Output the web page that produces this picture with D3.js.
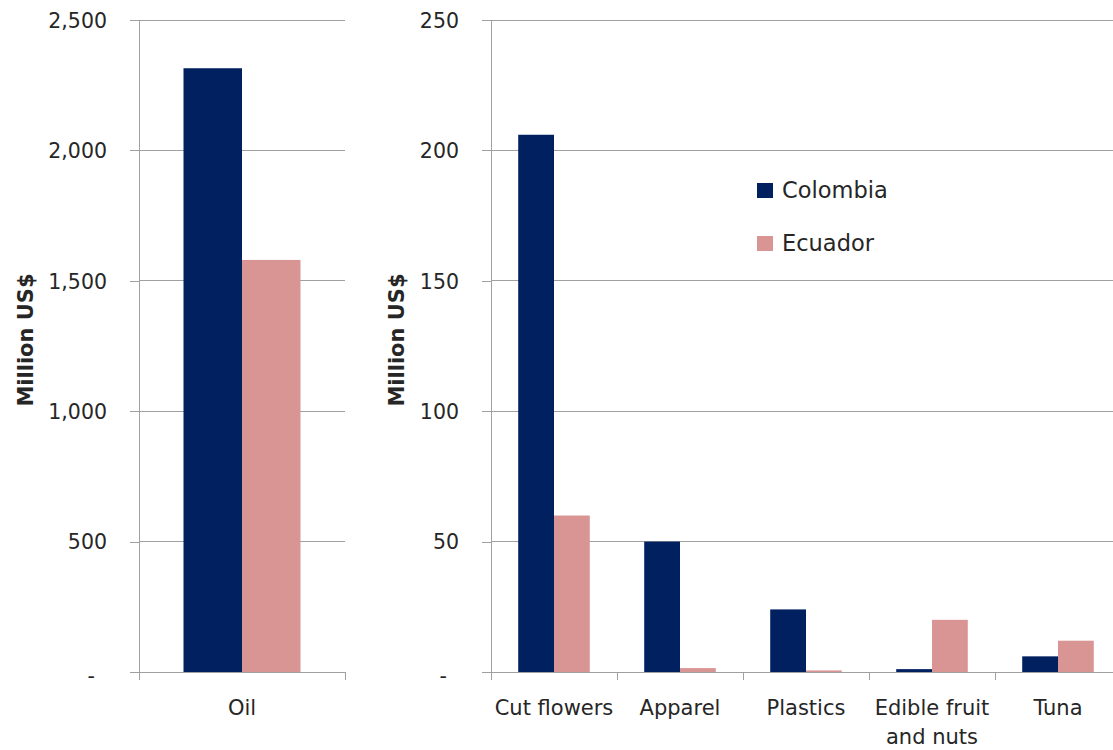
<!DOCTYPE html>
<html>
<head>
<meta charset="utf-8">
<script src="https://cdn.jsdelivr.net/npm/d3@7/dist/d3.min.js"></script>
<style>
  html, body { margin: 0; padding: 0; background: #ffffff; }
  svg { display: block; }
  text { font-family: "DejaVu Sans", sans-serif; fill: #262626; }
</style>
</head>
<body>
<svg id="chart" width="1113" height="750"></svg>
<script>
// Export values, million US$
const seriesNames = ["Colombia", "Ecuador"];
const seriesColors = ["#002060", "#D99594"];

const oilCategories = ["Oil"];
const oilColombia = [2315];
const oilEcuador = [1580];
const oilTicks = [0, 500, 1000, 1500, 2000, 2500];

const otherCategories = ["Cut flowers", "Apparel", "Plastics", "Edible fruit\nand nuts", "Tuna"];
const otherColombia = [206, 50, 24, 1.1, 6];
const otherEcuador = [60, 1.5, 0.6, 20, 12];
const otherTicks = [0, 50, 100, 150, 200, 250];

const yTitle = "Million US$";

const svg = d3.select("#chart");
const gridColor = "#a0a0a0";
const yTop = 20, yBottom = 672;

function drawPanel(opts) {
  const { categories, colombia, ecuador, ticks, x0, x1, titleX } = opts;
  const g = svg.append("g");

  const y = d3.scaleLinear()
    .domain([0, ticks[ticks.length - 1]])
    .range([yBottom, yTop]);

  const x = d3.scaleBand()
    .domain(categories)
    .range([x0, x1])
    .paddingInner(0)
    .paddingOuter(0);

  // share of each category slot taken by the pair of bars
  const groupShare = 0.568;
  const inner = d3.scaleBand()
    .domain(seriesNames)
    .range([0, x.bandwidth() * groupShare]);
  const groupOffset = x.bandwidth() * (1 - groupShare) / 2;

  // horizontal gridlines
  g.append("g")
    .selectAll("line")
    .data(ticks.filter(t => t > 0))
    .join("line")
    .attr("x1", x0).attr("x2", x1)
    .attr("y1", d => y(d)).attr("y2", d => y(d))
    .attr("stroke", gridColor).attr("stroke-width", 1)
    .attr("shape-rendering", "crispEdges");

  // bars
  const rows = categories.map((c, i) => ({ cat: c, values: [colombia[i], ecuador[i]] }));
  const grp = g.append("g")
    .selectAll("g")
    .data(rows)
    .join("g")
    .attr("transform", d => `translate(${x(d.cat) + groupOffset},0)`);
  grp.selectAll("rect")
    .data(d => d.values.map((v, k) => ({ name: seriesNames[k], v, k })))
    .join("rect")
    .attr("x", d => inner(d.name))
    .attr("width", inner.bandwidth())
    .attr("y", d => y(d.v))
    .attr("height", d => y(0) - y(d.v))
    .attr("fill", d => seriesColors[d.k]);

  // y axis with outward ticks
  const yAxis = d3.axisLeft(y)
    .tickValues(ticks)
    .tickSize(9)
    .tickPadding(23)
    .tickFormat(d => d === 0 ? "-" : d3.format(",")(d));
  const ya = g.append("g")
    .attr("transform", `translate(${x0},0)`)
    .call(yAxis);
  ya.select(".domain").attr("stroke", gridColor).attr("shape-rendering", "crispEdges");
  ya.selectAll(".tick line").attr("stroke", gridColor).attr("shape-rendering", "crispEdges");
  ya.selectAll(".tick text")
    .attr("font-family", "DejaVu Sans, sans-serif")
    .attr("font-size", "20.5px")
    .attr("fill", "#262626")
    .attr("dy", d => d === 0 ? "0.5em" : "0.36em")
    .attr("dx", d => d === 0 ? "-12px" : "0");

  // x axis with separators between categories
  const xa = g.append("g").attr("transform", `translate(0,${yBottom})`);
  xa.append("line")
    .attr("x1", x0).attr("x2", x1)
    .attr("y1", 0).attr("y2", 0)
    .attr("stroke", gridColor)
    .attr("shape-rendering", "crispEdges");
  const bounds = categories.map(c => x(c)).concat([x1]);
  xa.selectAll("line.sep")
    .data(bounds)
    .join("line")
    .attr("class", "sep")
    .attr("x1", d => d).attr("x2", d => d)
    .attr("y1", 0).attr("y2", 8)
    .attr("stroke", gridColor)
    .attr("shape-rendering", "crispEdges");

  // category labels
  const labels = g.append("g")
    .selectAll("text")
    .data(categories)
    .join("text")
    .attr("x", d => x(d) + x.bandwidth() / 2)
    .attr("y", 715)
    .attr("text-anchor", "middle")
    .attr("font-size", "21px");
  labels.selectAll("tspan")
    .data(d => d.split("\n").map(s => ({ s, c: d })))
    .join("tspan")
    .attr("x", d => x(d.c) + x.bandwidth() / 2)
    .attr("dy", (d, i) => i === 0 ? 0 : 29)
    .text(d => d.s);

  // axis title
  g.append("text")
    .attr("transform", `translate(${titleX},340) rotate(-90)`)
    .attr("text-anchor", "middle")
    .attr("font-size", "21px")
    .attr("font-weight", "bold")
    .attr("fill", "#000")
    .text(yTitle);

  return { x, y };
}

drawPanel({
  categories: oilCategories, colombia: oilColombia, ecuador: oilEcuador,
  ticks: oilTicks, x0: 139, x1: 345, titleX: 33
});

drawPanel({
  categories: otherCategories, colombia: otherColombia, ecuador: otherEcuador,
  ticks: otherTicks, x0: 491, x1: 1121, titleX: 404
});

// legend
const legend = svg.append("g").attr("transform", "translate(757,183)");
const items = legend.selectAll("g")
  .data(seriesNames)
  .join("g")
  .attr("transform", (d, i) => `translate(0,${i * 53})`);
items.append("rect")
  .attr("width", 16).attr("height", 15)
  .attr("fill", (d, i) => seriesColors[i]);
items.append("text")
  .attr("x", 25).attr("y", 15)
  .attr("font-size", "22.5px")
  .text(d => d);
</script>
</body>
</html>
